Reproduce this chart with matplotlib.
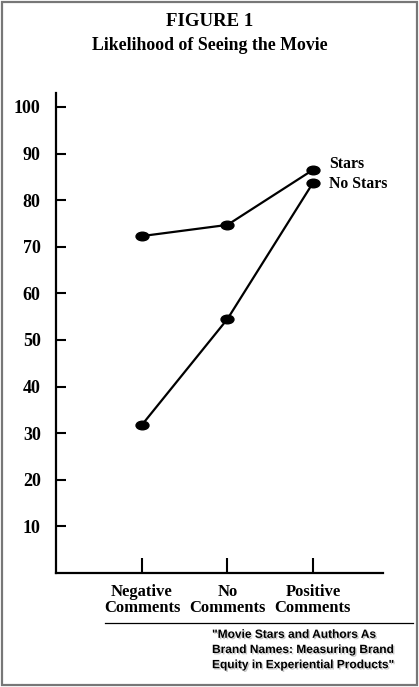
import matplotlib.pyplot as plt
from matplotlib.markers import MarkerStyle
from matplotlib.transforms import Affine2D
from matplotlib.patches import Rectangle
from matplotlib.lines import Line2D
import matplotlib.patheffects as pe

# Chart data
categories = ["Negative\nComments", "No\nComments", "Positive\nComments"]
stars = [72.3, 74.7, 86.5]
no_stars = [31.8, 54.5, 83.7]
yticks = [10, 20, 30, 40, 50, 60, 70, 80, 90, 100]
series_labels = ["Stars", "No Stars"]

serif = ["Liberation Serif", "DejaVu Serif"]
sans = ["Liberation Sans", "DejaVu Sans"]

fig = plt.figure(figsize=(4.19, 6.87), dpi=100)
W, H = 419, 687

def fx(px):
    return px / W

def fy(py):
    return 1 - py / H

# Axes: left at x=56, right at x=383, x-axis at y=573, top of y-axis at y=93
ax = fig.add_axes([fx(56), fy(573), fx(383) - fx(56), fy(93) - fy(573)])

x = list(range(len(categories)))
oval = MarkerStyle("o", transform=Affine2D().scale(1.5, 1.0))

ax.plot(x, stars, color="black", lw=1.6, marker=oval, ms=6.2, mfc="black", mec="black")
ax.plot(x, no_stars, color="black", lw=1.6, marker=oval, ms=6.2, mfc="black", mec="black")

ax.set_xlim(-1.006, 2.82)
ax.set_ylim(0, 103)

for s in ["top", "right"]:
    ax.spines[s].set_visible(False)
for s in ["left", "bottom"]:
    ax.spines[s].set_linewidth(1.6)

ax.set_yticks(yticks)
ax.set_yticklabels([str(v) for v in yticks], fontfamily=serif, fontweight="bold", fontsize=13)
ax.tick_params(axis="y", direction="in", length=7.5, width=1.5, pad=11)

ax.set_xticks(x)
ax.set_xticklabels(categories, fontfamily=serif, fontweight="bold", fontsize=12, linespacing=1.0)
ax.tick_params(axis="x", direction="in", length=11, width=1.5, pad=8)

# series labels at the right end
ax.text(2.19, stars[-1] + 1.3, series_labels[0], fontfamily=serif, fontweight="bold",
        fontsize=11.3, va="center", ha="left")
ax.text(2.19, no_stars[-1] - 0.2, series_labels[1], fontfamily=serif, fontweight="bold",
        fontsize=11.3, va="center", ha="left")

# titles
fig.text(0.5, fy(22), "FIGURE 1", fontfamily=serif, fontweight="bold", fontsize=13.5,
         ha="center", va="center")
fig.text(0.5, fy(45), "Likelihood of Seeing the Movie", fontfamily=serif, fontweight="bold",
         fontsize=12.8, ha="center", va="center")

# separator line and citation
fig.add_artist(Line2D([fx(105), fx(413)], [fy(623), fy(623)], color="black", lw=0.9))
citation = "\"Movie Stars and Authors As\nBrand Names: Measuring Brand\nEquity in Experiential Products\""
fig.text(fx(212), fy(650), citation, fontfamily=sans, fontweight="bold", fontsize=8.6,
         ha="left", va="center", linespacing=1.35,
         path_effects=[pe.withSimplePatchShadow(offset=(1, -1), shadow_rgbFace="#bbbbbb", alpha=0.8)])

# outer frame
fig.add_artist(Rectangle((fx(2), fy(685)), fx(415), fy(2) - fy(685), fill=False,
                         edgecolor="#777777", lw=1.6, transform=fig.transFigure))

fig.savefig("out.png", dpi=100)
